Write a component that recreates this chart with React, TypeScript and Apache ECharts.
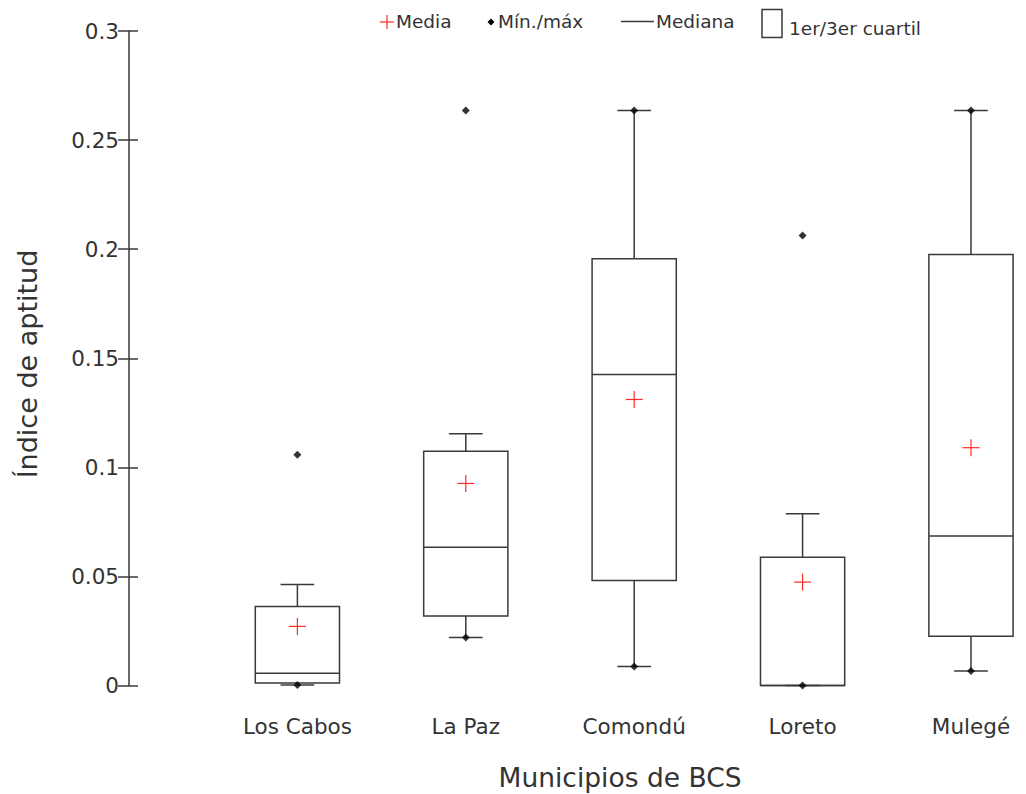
import React, { useEffect, useRef } from "react";
import * as echarts from "echarts";

const categories = ["Los Cabos", "La Paz", "Comondú", "Loreto", "Mulegé"];
const whiskerLow = [0.0002, 0.022, 0.0087, 0.0, 0.0066];
const q1 = [0.0012, 0.0318, 0.0481, 0.0, 0.0226];
const median = [0.0056, 0.0634, 0.1426, 0.0, 0.0685];
const q3 = [0.0362, 0.1074, 0.1956, 0.0588, 0.1975];
const whiskerHigh = [0.0463, 0.1154, 0.2636, 0.0787, 0.2636];
const minVals = [0.0002, 0.022, 0.0087, 0.0, 0.0066];
const maxVals = [0.1058, 0.2636, 0.2636, 0.2063, 0.2636];
const means = [0.0271, 0.0926, 0.1311, 0.0474, 0.109];

const FONT = "DejaVu Sans";
const TEXT = "#333";
const LINE = "#3a3a3a";
const RED = "#ff2a2a";

export default function App() {
  const ref = useRef<HTMLDivElement>(null);
  useEffect(() => {
    if (!ref.current) return;
    const chart = echarts.init(ref.current, null, { renderer: "svg" });
    const boxData = categories.map((_, i) => [i + 1, whiskerLow[i], q1[i], median[i], q3[i], whiskerHigh[i]]);
    const meanData = categories.map((_, i) => [i + 1, means[i]]);
    const extremeData: number[][] = [];
    categories.forEach((_, i) => {
      extremeData.push([i + 1, minVals[i]]);
      extremeData.push([i + 1, maxVals[i]]);
    });
    const lineStyle = { stroke: LINE, lineWidth: 1.5, fill: null };
    const legendText = (text: string, x: number, y: number) => ({
      type: "text",
      x,
      y,
      style: { text, fontFamily: FONT, fontSize: 18.5, fill: TEXT, verticalAlign: "middle" },
    });
    chart.setOption({
      animation: false,
      grid: { left: 129, top: 31, bottom: 108.5, right: 4.5, containLabel: false },
      xAxis: {
        type: "value",
        min: 0,
        max: 5.3,
        interval: 1,
        axisLine: { show: false },
        axisTick: { show: false },
        splitLine: { show: false },
        axisLabel: {
          fontFamily: FONT,
          fontSize: 21.5,
          color: TEXT,
          margin: 30,
          showMaxLabel: false,
          formatter: (v: number) => (Number.isInteger(v) && v >= 1 && v <= 5 ? categories[v - 1] : ""),
        },
      },
      yAxis: [
        {
          type: "value",
          min: 0,
          max: 0.3,
          interval: 0.05,
          axisLine: { show: true, lineStyle: { color: LINE, width: 1.5 } },
          axisTick: { show: true, inside: false, length: 11, lineStyle: { color: LINE, width: 1.5 } },
          splitLine: { show: false },
          axisLabel: {
            fontFamily: FONT,
            fontSize: 21.5,
            color: TEXT,
            margin: 10,
            formatter: (v: number) => String(+v.toFixed(2)),
          },
        },
        {
          type: "value",
          position: "left",
          min: 0,
          max: 0.3,
          interval: 0.05,
          axisLine: { show: false },
          axisTick: { show: true, inside: true, length: 9, lineStyle: { color: LINE, width: 1.5 } },
          axisLabel: { show: false },
          splitLine: { show: false },
        },
      ],
      graphic: [
        {
          type: "text",
          x: 620,
          y: 777,
          style: { text: "Municipios de BCS", fontFamily: FONT, fontSize: 26.5, fill: TEXT, align: "center", verticalAlign: "middle" },
        },
        {
          type: "text",
          x: 27,
          y: 364,
          rotation: Math.PI / 2,
          style: { text: "Índice de aptitud", fontFamily: FONT, fontSize: 27, fill: TEXT, align: "center", verticalAlign: "middle" },
        },
        { type: "line", shape: { x1: 380, y1: 22, x2: 394, y2: 22 }, style: { stroke: RED, lineWidth: 1.2 } },
        { type: "line", shape: { x1: 387, y1: 15, x2: 387, y2: 29 }, style: { stroke: RED, lineWidth: 1.2 } },
        legendText("Media", 396, 21),
        { type: "polygon", shape: { points: [[491, 18.5], [494.5, 22], [491, 25.5], [487.5, 22]] }, style: { fill: "#000" } },
        legendText("Mín./máx", 498, 21),
        { type: "line", shape: { x1: 621, y1: 21.5, x2: 654, y2: 21.5 }, style: { stroke: LINE, lineWidth: 1.5 } },
        legendText("Mediana", 656, 21),
        { type: "rect", shape: { x: 762, y: 9.5, width: 20, height: 28 }, style: { stroke: LINE, lineWidth: 1.5, fill: "#fff" } },
        legendText("1er/3er cuartil", 789, 28),
      ],
      series: [
        {
          type: "custom",
          data: boxData,
          encode: { x: 0, y: [1, 2, 3, 4, 5] },
          renderItem: (params: any, api: any) => {
            const x = api.value(0);
            const pLow = api.coord([x, api.value(1)]);
            const pQ1 = api.coord([x, api.value(2)]);
            const pMed = api.coord([x, api.value(3)]);
            const pQ3 = api.coord([x, api.value(4)]);
            const pHigh = api.coord([x, api.value(5)]);
            const half = api.size([0.25, 0])[0];
            const cap = api.size([0.1, 0])[0];
            const cx = pQ1[0];
            const children: any[] = [];
            if (pLow[1] - pQ1[1] > 0.5) {
              children.push({ type: "line", shape: { x1: cx, y1: pQ1[1], x2: cx, y2: pLow[1] }, style: lineStyle });
            }
            children.push({ type: "line", shape: { x1: cx - cap, y1: pLow[1], x2: cx + cap, y2: pLow[1] }, style: lineStyle });
            children.push({ type: "line", shape: { x1: cx, y1: pQ3[1], x2: cx, y2: pHigh[1] }, style: lineStyle });
            children.push({ type: "line", shape: { x1: cx - cap, y1: pHigh[1], x2: cx + cap, y2: pHigh[1] }, style: lineStyle });
            children.push({
              type: "rect",
              shape: { x: cx - half, y: pQ3[1], width: half * 2, height: pQ1[1] - pQ3[1] },
              style: lineStyle,
            });
            children.push({ type: "line", shape: { x1: cx - half, y1: pMed[1], x2: cx + half, y2: pMed[1] }, style: lineStyle });
            return { type: "group", children };
          },
          z: 2,
        },
        {
          type: "custom",
          data: meanData,
          encode: { x: 0, y: 1 },
          renderItem: (params: any, api: any) => {
            const p = api.coord([api.value(0), api.value(1)]);
            const s = { stroke: RED, lineWidth: 1.2 };
            return {
              type: "group",
              children: [
                { type: "line", shape: { x1: p[0] - 8.5, y1: p[1], x2: p[0] + 8.5, y2: p[1] }, style: s },
                { type: "line", shape: { x1: p[0], y1: p[1] - 8.5, x2: p[0], y2: p[1] + 8.5 }, style: s },
              ],
            };
          },
          z: 3,
        },
        {
          type: "scatter",
          data: extremeData,
          symbol: "diamond",
          symbolSize: 8,
          itemStyle: { color: "#000" },
          z: 4,
        },
      ],
    });
    return () => chart.dispose();
  }, []);
  return <div ref={ref} style={{ position: "absolute", left: 0, top: 0, width: 1026, height: 794 }} />;
}
